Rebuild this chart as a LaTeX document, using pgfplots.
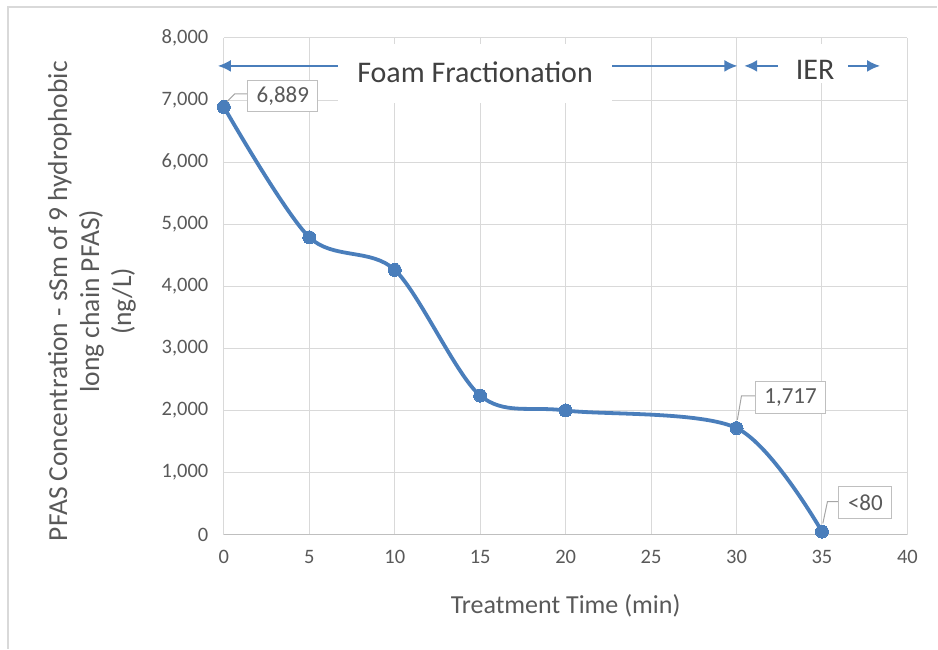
\documentclass[border=0pt]{standalone}
\usepackage{pgfplots}
\pgfplotsset{compat=1.18}
\usepackage{fontspec}
\setmainfont{Carlito}
\usetikzlibrary{arrows.meta}
\definecolor{lineblue}{HTML}{4A7EBB}
\definecolor{txtgray}{HTML}{595959}
\definecolor{darktxt}{HTML}{404040}
\definecolor{gridgray}{HTML}{D9D9D9}
\definecolor{boxgray}{HTML}{BFBFBF}
\definecolor{leadgray}{HTML}{A6A6A6}
\begin{document}
\begin{tikzpicture}
\begin{axis}[
    width=684pt, height=497pt, scale only axis,
    xmin=0, xmax=40, ymin=0, ymax=8000,
    xtick={0,5,...,40}, ytick={0,1000,...,8000},
    scaled y ticks=false,
    grid=major,
    major grid style={gridgray, line width=1pt},
    axis x line*=bottom, axis y line*=left,
    x axis line style={boxgray, line width=1pt, -},
    y axis line style={draw=none},
    major tick length=0pt,
    /pgf/number format/assume math mode=true,
    /pgf/number format/1000 sep={,},
    tick label style={txtgray, font=\fontsize{20.5}{24}\selectfont},
    yticklabel style={xshift=-12pt},
    xticklabel style={yshift=-12pt},
    xlabel={Treatment Time (min)},
    xlabel style={txtgray, font=\fontsize{26}{31}\selectfont,
        at={(axis description cs:0.5,-0.143)}, anchor=center},
    ylabel={PFAS Concentration - sSm of 9 hydrophobic\\long chain PFAS)\\(ng/L)},
    ylabel style={txtgray, font=\fontsize{27.5}{32}\selectfont, align=center,
        at={(axis description cs:-0.193,0.47)}, anchor=center},
    clip=false,
]
\coordinate (o) at (rel axis cs:0,0);

\addplot[lineblue, line width=3.8pt, smooth, mark=*, mark size=6.5pt,
    mark options={fill=lineblue, draw=lineblue, line width=0pt}]
    coordinates {(0,6889) (5,4790) (10,4265) (15,2240) (20,2000) (30,1717) (35,50)};

% phase arrows
\draw[lineblue, line width=2pt, {Latex[length=13pt,width=12pt]}-{Latex[length=13pt,width=12pt]}]
    (axis cs:-0.35,7550) -- (axis cs:30.05,7550);
\fill[white] (axis cs:6.7,6960) rectangle (axis cs:22.7,7900);
\node[text=darktxt, font=\fontsize{30}{36}\selectfont] at (axis cs:14.7,7440) {Foam Fractionation};
\draw[lineblue, line width=2pt, {Latex[length=13pt,width=12pt]}-{Latex[length=13pt,width=12pt]}]
    (axis cs:30.45,7550) -- (axis cs:38.4,7550);
\fill[white] (axis cs:32.4,7280) rectangle (axis cs:36.5,7900);
\node[text=darktxt, font=\fontsize{30}{36}\selectfont] at (axis cs:34.6,7490) {IER};

% data labels
\draw[leadgray, line width=1pt] (axis cs:0.1,6950) -- (axis cs:0.64,7100) -- (axis cs:1.4,7100);
\node[draw=boxgray, line width=1pt, fill=white, text=txtgray, font=\fontsize{23}{27}\selectfont,
    minimum width=70pt, minimum height=31pt, inner sep=0pt] at (axis cs:3.45,7060) {6,889};
\draw[leadgray, line width=1pt] (axis cs:30.05,1850) -- (axis cs:30.29,2237) -- (axis cs:31.11,2237);
\node[draw=boxgray, line width=1pt, fill=white, text=txtgray, font=\fontsize{23}{27}\selectfont,
    minimum width=70pt, minimum height=32pt, inner sep=0pt] at (axis cs:33.16,2210) {1,717};
\draw[leadgray, line width=1pt] (axis cs:35.05,180) -- (axis cs:35.32,531) -- (axis cs:36.02,531);
\node[draw=boxgray, line width=1pt, fill=white, text=txtgray, font=\fontsize{23}{27}\selectfont,
    minimum width=53pt, minimum height=32pt, inner sep=0pt] at (axis cs:37.54,520) {<80};
\end{axis}
% chart area frame (left and top edges visible)
\draw[gridgray, line width=1.2pt] ([shift={(-216pt,-114pt)}]o) -- ([shift={(-216pt,528pt)}]o) -- ([shift={(714pt,528pt)}]o);
\path[use as bounding box] ([shift={(-224pt,-114pt)}]o) rectangle ([shift={(714pt,535pt)}]o);
\end{tikzpicture}
\end{document}
